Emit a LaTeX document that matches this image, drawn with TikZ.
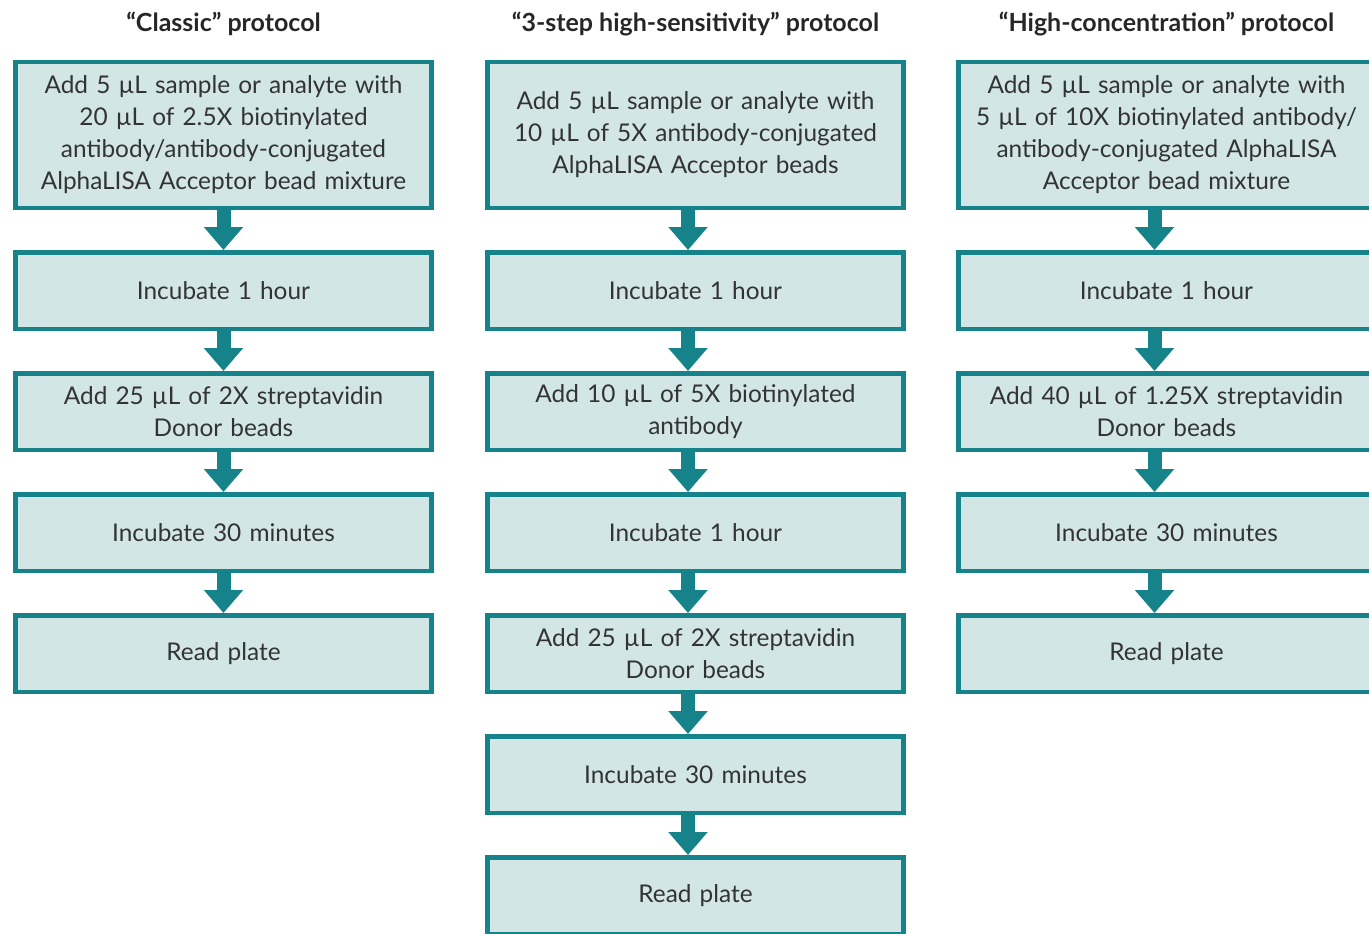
\documentclass[tikz,border=0pt]{standalone}
\usepackage{fontspec}
\setmainfont{Lato}
\usetikzlibrary{positioning,arrows.meta}
\definecolor{tealline}{HTML}{16838A}
\definecolor{tealfill}{HTML}{D2E6E6}
\definecolor{textgray}{HTML}{333333}
\tikzset{
  stepbox/.style={draw=tealline,line width=4.5pt,fill=tealfill,
    minimum width=416pt,minimum height=76.5pt,inner sep=0pt,
    text width=410pt,align=center,text=textgray,
    font=\fontsize{24.4}{32}\selectfont},
  bigbox/.style={stepbox,minimum height=145.5pt},
  colhead/.style={font=\fontsize{25}{28}\selectfont\bfseries,text=black!85},
  flow/.style={line width=14pt,draw=tealline,-{Triangle[width=38pt,length=23pt]}}
}
\begin{document}
\begin{tikzpicture}[x=1pt,y=1pt,node distance=40pt]
\useasboundingbox (0,0) rectangle (1369,-934);

% column titles
\node[colhead] (t1) at (223.5,-24) {“Classic” protocol};
\node[colhead] (t2) at (695.5,-24) {“3-step high-sensitivity” protocol};
\node[colhead] (t3) at (1166.5,-24) {“High-concentration” protocol};

% classic
\node[bigbox] (a1) at (223.5,-135) {Add 5 µL sample or analyte with\\20 µL of 2.5X biotinylated\\antibody/antibody-conjugated\\AlphaLISA Acceptor bead mixture};
\node[stepbox,below=of a1] (a2) {Incubate 1 hour};
\node[stepbox,below=of a2] (a3) {Add 25 µL of 2X streptavidin\\Donor beads};
\node[stepbox,below=of a3] (a4) {Incubate 30 minutes};
\node[stepbox,below=of a4] (a5) {Read plate};

% 3-step
\node[bigbox] (b1) at (695.5,-135) {Add 5 µL sample or analyte with\\10 µL of 5X antibody-conjugated\\AlphaLISA Acceptor beads};
\node[stepbox,below=of b1] (b2) {Incubate 1 hour};
\node[stepbox,below=of b2] (b3) {Add 10 µL of 5X biotinylated\\antibody};
\node[stepbox,below=of b3] (b4) {Incubate 1 hour};
\node[stepbox,below=of b4] (b5) {Add 25 µL of 2X streptavidin\\Donor beads};
\node[stepbox,below=of b5] (b6) {Incubate 30 minutes};
\node[stepbox,below=of b6] (b7) {Read plate};

% high-concentration
\node[bigbox] (c1) at (1166.5,-135) {Add 5 µL sample or analyte with\\5 µL of 10X biotinylated antibody/\\antibody-conjugated AlphaLISA\\Acceptor bead mixture};
\node[stepbox,below=of c1] (c2) {Incubate 1 hour};
\node[stepbox,below=of c2] (c3) {Add 40 µL of 1.25X streptavidin\\Donor beads};
\node[stepbox,below=of c3] (c4) {Incubate 30 minutes};
\node[stepbox,below=of c4] (c5) {Read plate};

% arrows
\foreach \i/\j in {1/2,2/3,3/4,4/5}
  \draw[flow] (a\i.south) -- (a\j.north);
\foreach \i/\j in {1/2,2/3,3/4,4/5,5/6,6/7}
  \draw[flow] ([xshift=-7.5pt]b\i.south) -- ([xshift=-7.5pt]b\j.north);
\foreach \i/\j in {1/2,2/3,3/4,4/5}
  \draw[flow] ([xshift=-12pt]c\i.south) -- ([xshift=-12pt]c\j.north);
\end{tikzpicture}
\end{document}
